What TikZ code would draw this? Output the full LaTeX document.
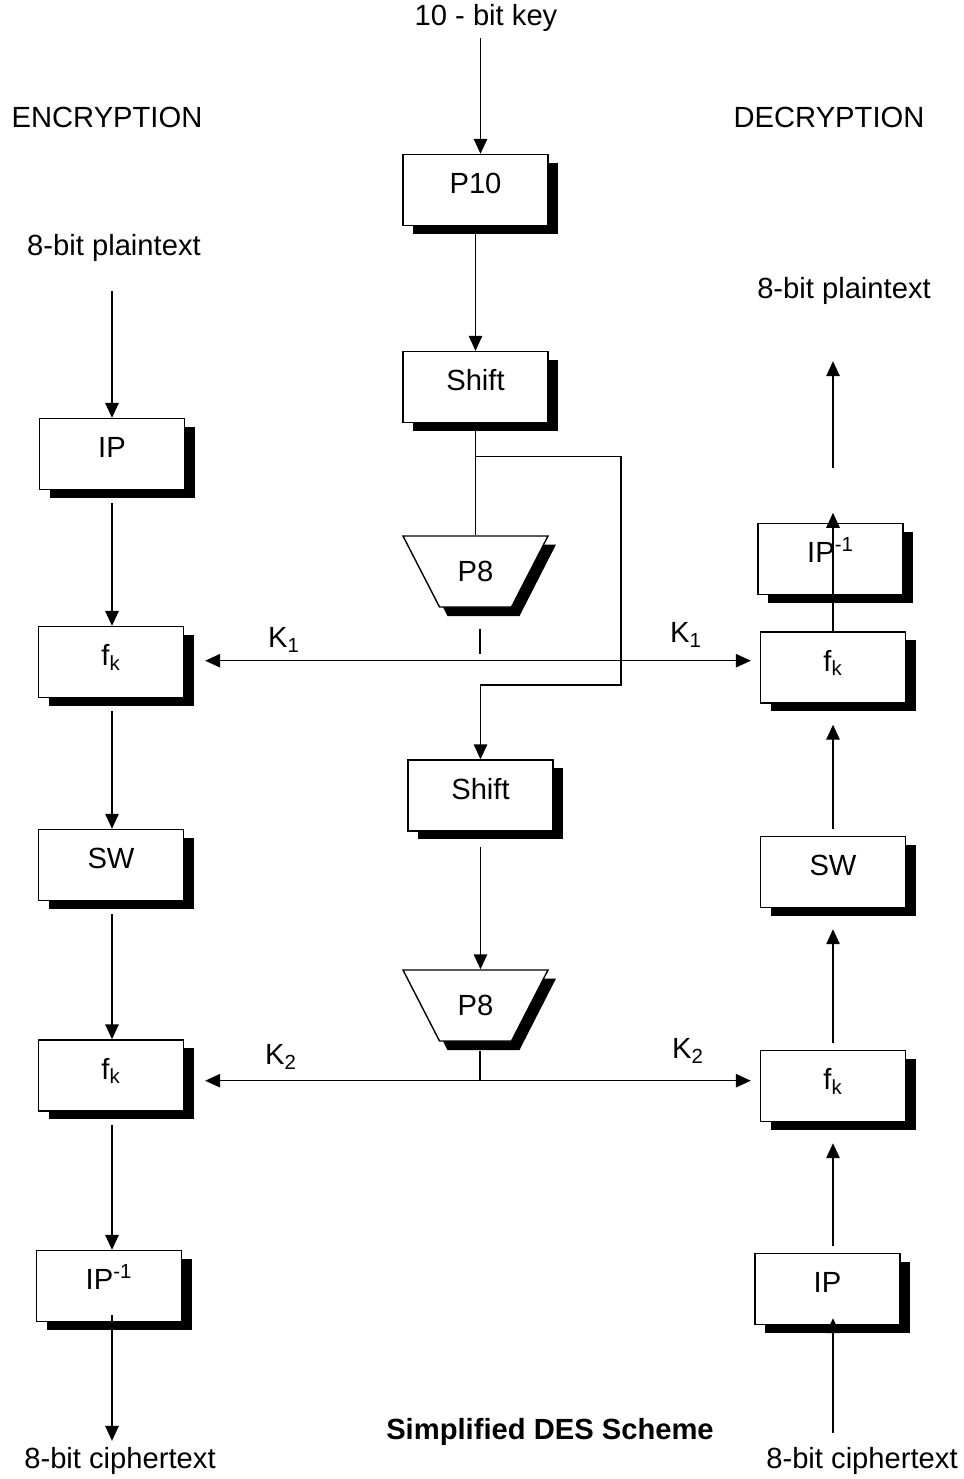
\documentclass[tikz,border=0pt]{standalone}
\usepackage{fontspec}
\setmainfont{Liberation Sans}
\usetikzlibrary{arrows.meta,shadows,calc}

\tikzset{
  blk/.style={draw,fill=white,line width=0.8pt,minimum width=2.9cm,minimum height=1.42cm,
    text height=0.42cm,text depth=0.28cm,
    drop shadow={shadow xshift=0.2cm,shadow yshift=-0.16cm,fill=black,opacity=1}},
  perm/.style={minimum width=2.9cm,minimum height=1.42cm,inner sep=0pt},
  dn/.style={->,shorten <=0.26cm},
  up/.style={->,shorten <=0.14cm,shorten >=0.42cm}
}

\begin{document}
\begin{tikzpicture}[font=\fontsize{16.6}{20}\selectfont,line width=0.8pt,
    >={Triangle[width=0.27cm,length=0.3cm]}]
  \useasboundingbox (0,0) rectangle (19.28,-29.58);

  % P8 outlines with their shadows
  \foreach \y in {-11.43,-20.11} {
    \begin{scope}[shift={(9.51,\y)}]
      \fill (-1.29,0.54) -- (1.61,0.54) -- (0.88,-0.89) -- (-0.56,-0.89) -- cycle;
      \draw[fill=white] (-1.45,0.71) -- (1.45,0.71) -- (0.72,-0.71) -- (-0.72,-0.71) -- cycle;
    \end{scope}
  }

  % key generation
  \node (key) at (9.72,-0.36) {10 - bit key};
  \node[blk] (p10) at (9.51,-3.80) {P10};
  \node[blk] (shifta) at (9.51,-7.74) {Shift};
  \node[perm] (p8a) at (9.51,-11.43) {P8};
  \node[blk] (shiftb) at (9.61,-15.91) {Shift};
  \node[perm] (p8b) at (9.51,-20.11) {P8};

  % encryption
  \node (enc) at (2.14,-2.34) {ENCRYPTION};
  \node (pta) at (2.28,-4.96) {8-bit plaintext};
  \node[blk] (ipa) at (2.24,-9.08) {IP};
  \node[blk] (fka) at (2.22,-13.24) {f\textsubscript{k}};
  \node[blk] (swa) at (2.22,-17.30) {SW};
  \node[blk] (fkb) at (2.22,-21.51) {f\textsubscript{k}};
  \node[blk] (ipinva) at (2.18,-25.72) {IP\textsuperscript{-1}};
  \node (cta) at (2.40,-29.22) {8-bit ciphertext};

  % decryption
  \node (dec) at (16.58,-2.34) {DECRYPTION};
  \node (ptb) at (16.88,-5.82) {8-bit plaintext};
  \node[blk] (ipinvb) at (16.61,-11.18) {IP\textsuperscript{-1}};
  \node[blk] (fkc) at (16.66,-13.35) {f\textsubscript{k}};
  \node[blk] (swb) at (16.66,-17.44) {SW};
  \node[blk] (fkd) at (16.66,-21.72) {f\textsubscript{k}};
  \node[blk] (ipb) at (16.55,-25.78) {IP};
  \node (ctb) at (17.24,-29.22) {8-bit ciphertext};

  \node (caption) at (11.0,-28.64) {\bfseries Simplified DES Scheme};

  % key path
  \draw[->] (key.south -| shiftb.north) -- (p10.north -| shiftb.north);
  \draw[->] (p10.south) -- (shifta.north);
  \draw (shifta.south) -- (p8a.north);
  \coordinate (tap) at ($(shifta.south)+(0,-0.66)$);
  \coordinate (loop) at (12.42,-13.70);
  \draw[->] (tap) -| (loop) -| (shiftb.north);
  \draw[dn,shorten <=0.3cm] (shiftb.south) -- (shiftb.south |- p8b.north);

  \coordinate (ka) at ($(p8a.south)+(0.09,-1.06)$);
  \coordinate (kb) at ($(p8b.south)+(0.09,-0.78)$);
  \draw ($(p8a.south)+(0.09,-0.42)$) -- ($(p8a.south)+(0.09,-0.92)$);
  \draw ($(p8b.south)+(0.09,-0.18)$) -- (kb);

  \draw[<->,shorten <=0.42cm,shorten >=0.18cm] (fka.east |- ka) -- (fkc.west |- ka);
  \draw[<->,shorten <=0.42cm,shorten >=0.18cm] (fkb.east |- kb) -- (fkd.west |- kb);
  \node (k1a) at (5.68,-12.80) {K\textsubscript{1}};
  \node (k1b) at (13.72,-12.70) {K\textsubscript{1}};
  \node (k2a) at (5.62,-21.14) {K\textsubscript{2}};
  \node (k2b) at (13.76,-21.02) {K\textsubscript{2}};

  % encryption arrows
  \draw[dn,shorten <=0.46cm] (pta.south -| ipa.north) -- (ipa.north);
  \foreach \a/\b in {ipa/fka,fka/swa,swa/fkb,fkb/ipinva}
    \draw[dn] (\a.south -| ipa.south) -- (\b.north -| ipa.south);
  \draw[->] ($(ipinva.south -| ipa.south)+(0,0.14)$) -- (ipa.south |- cta.north);

  % decryption arrows
  \draw[->,shorten <=1.1cm,shorten >=1.0cm] (ipinvb.north -| fkc.north) -- (fkc.north |- ptb.south);
  \draw[->] (fkc.north) -- ($(ipinvb.north -| fkc.north)+(0,0.2)$);
  \foreach \a/\b in {swb/fkc,fkd/swb,ipb/fkd}
    \draw[up] (\a.north -| fkc.north) -- (\b.south -| fkc.north);
  \draw[->,shorten <=0.16cm] (ctb.north -| fkc.north) -- ($(ipb.south -| fkc.north)+(0,0.14)$);
\end{tikzpicture}
\end{document}
